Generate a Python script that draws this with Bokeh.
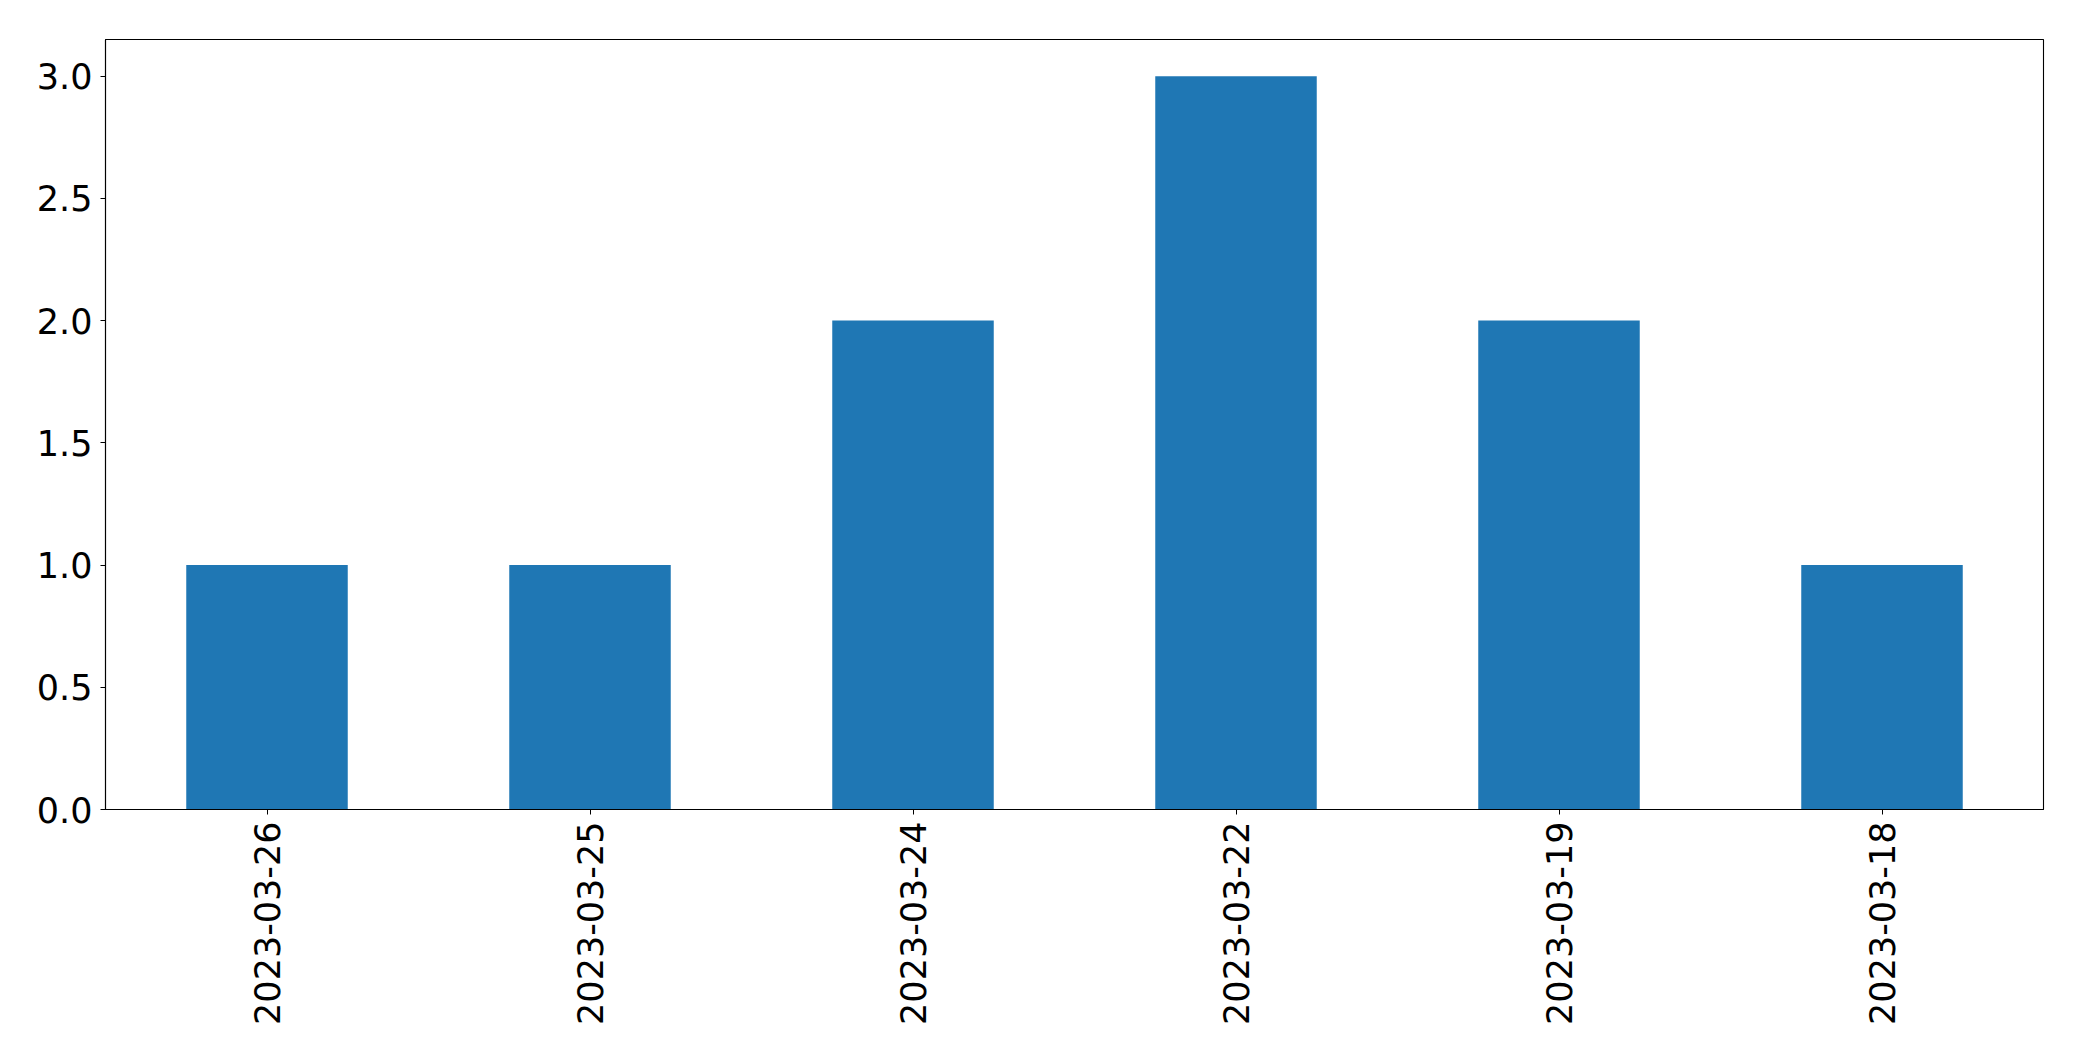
import math
from bokeh.plotting import figure
from bokeh.models import FactorRange, Range1d, FixedTicker, NumeralTickFormatter, ColumnDataSource
from bokeh.embed import file_html
from bokeh.resources import INLINE

dates = ["2023-03-26", "2023-03-25", "2023-03-24", "2023-03-22", "2023-03-19", "2023-03-18"]
counts = [1, 1, 2, 3, 2, 1]
y_ticks = [0.0, 0.5, 1.0, 1.5, 2.0, 2.5, 3.0]

src = ColumnDataSource(dict(x=dates, top=counts))

p = figure(width=2074, height=1053, output_backend="svg", toolbar_location=None,
           x_range=FactorRange(*dates, range_padding=0), y_range=Range1d(0, 3.15),
           min_border_left=105, min_border_right=31, min_border_top=39, min_border_bottom=244)

p.vbar(x="x", top="top", width=0.5, source=src, fill_color="#1f77b4", line_color=None)

p.xgrid.visible = False
p.ygrid.visible = False
p.outline_line_color = "black"
p.outline_line_width = 1.1
p.outline_line_alpha = 1

p.yaxis.ticker = FixedTicker(ticks=y_ticks)
p.yaxis.formatter = NumeralTickFormatter(format="0.0")
p.yaxis.minor_tick_line_color = None
p.xaxis.major_label_orientation = math.pi / 2

for ax in (p.xaxis, p.yaxis):
    ax.major_tick_in = 0
    ax.major_tick_out = 5
    ax.major_tick_line_color = "black"
    ax.axis_line_color = "black"
    ax.axis_line_width = 1.1
    ax.major_label_text_font = "DejaVu Sans"
    ax.major_label_text_font_size = "35px"
    ax.major_label_text_color = "black"
p.xaxis.major_label_standoff = 7
p.yaxis.major_label_standoff = 8

open("out.html", "w").write(file_html(p, INLINE))
